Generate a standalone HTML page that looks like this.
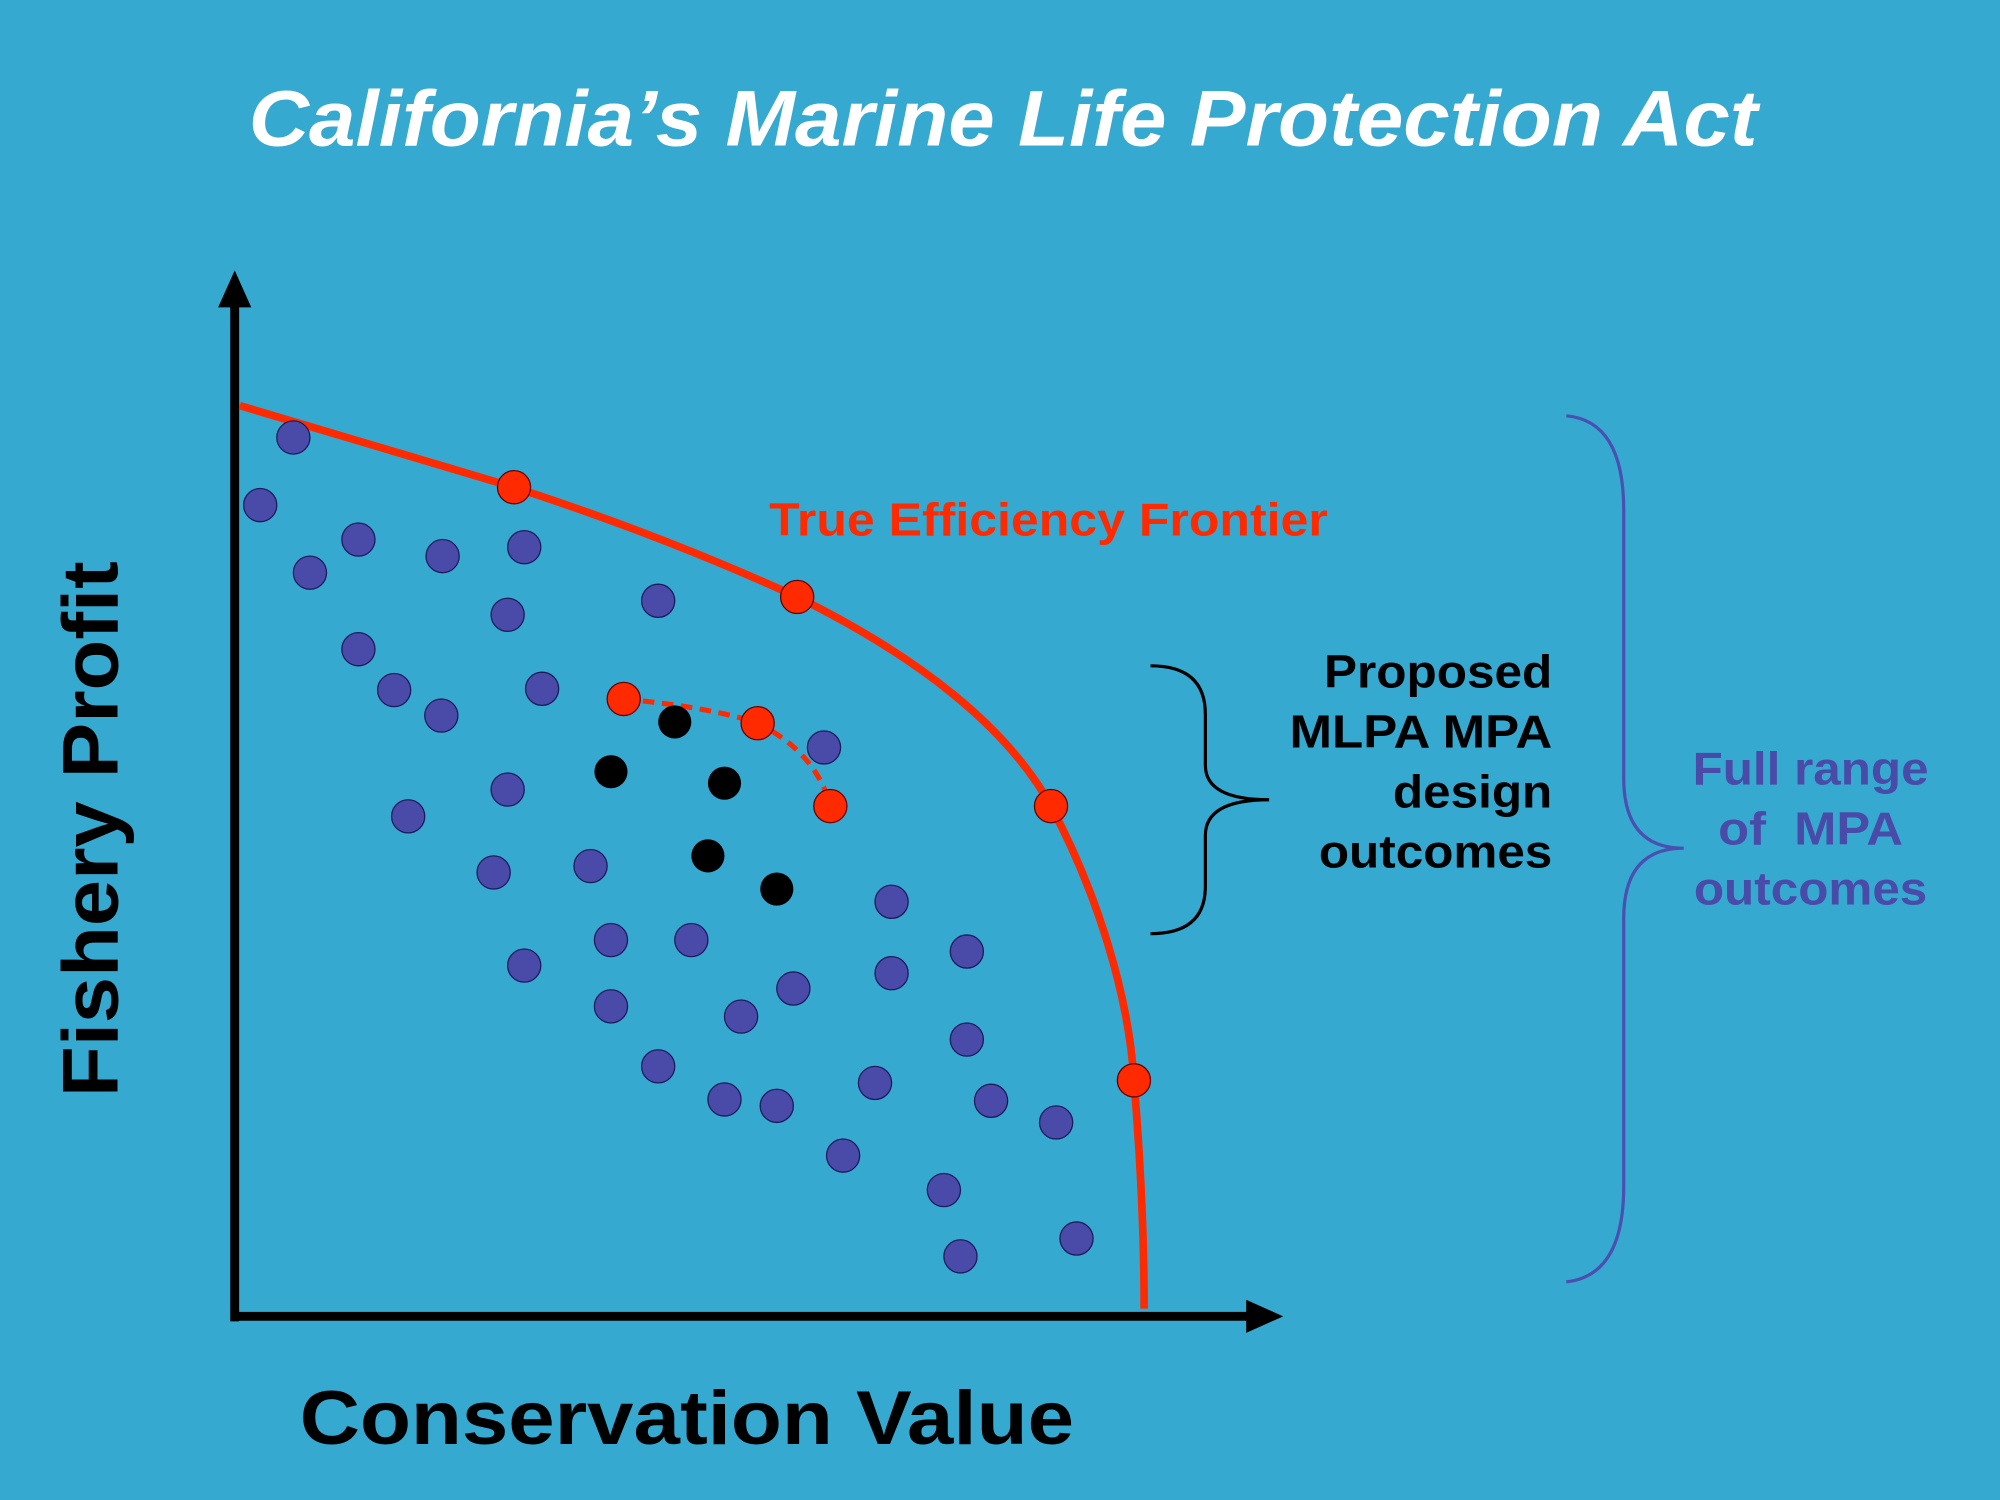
<!DOCTYPE html>
<html><head><meta charset="utf-8"><style>
html,body{margin:0;padding:0;background:#36A9D1;}
svg{display:block;}
text{font-family:"Liberation Sans",Arial,sans-serif;font-weight:bold;}
</style></head><body>
<svg width="2000" height="1500" viewBox="0 0 1568 1176" xmlns="http://www.w3.org/2000/svg">
<rect width="1568" height="1176" fill="#36A9D1"/>
<text x="195" y="114" textLength="1183" lengthAdjust="spacingAndGlyphs" font-size="62" font-style="italic" fill="#fff">California’s Marine Life Protection Act</text>
<line x1="184" y1="1036" x2="184" y2="235" stroke="#000" stroke-width="7"/>
<polygon points="184,212 171,241 197,241" fill="#000"/>
<line x1="181" y1="1032" x2="980" y2="1032" stroke="#000" stroke-width="7"/>
<polygon points="1006,1032 977,1019 977,1045" fill="#000"/>
<path d="M188,318 L403,382 Q520,420 625,468 C720,515 790,570 824,632 C860,700 885,780 889,847 C895,920 897,980 897,1026" fill="none" stroke="#FF2A00" stroke-width="6"/>
<path d="M489,548 Q560,555 594,567 Q640,590 651,632" fill="none" stroke="#FF2A00" stroke-width="4" stroke-dasharray="9,6"/>
<g fill="#4A4BA8" stroke="#1a1a5a" stroke-width="1">
<circle cx="230" cy="343" r="13"/><circle cx="204" cy="396" r="13"/><circle cx="243" cy="449" r="13"/><circle cx="281" cy="423" r="13"/><circle cx="347" cy="436" r="13"/><circle cx="411" cy="429" r="13"/><circle cx="398" cy="482" r="13"/><circle cx="516" cy="471" r="13"/><circle cx="281" cy="509" r="13"/><circle cx="309" cy="541" r="13"/><circle cx="346" cy="561" r="13"/><circle cx="425" cy="540" r="13"/><circle cx="646" cy="586" r="13"/><circle cx="320" cy="640" r="13"/><circle cx="398" cy="619" r="13"/><circle cx="387" cy="684" r="13"/><circle cx="463" cy="679" r="13"/><circle cx="411" cy="757" r="13"/><circle cx="479" cy="737" r="13"/><circle cx="542" cy="737" r="13"/><circle cx="699" cy="707" r="13"/><circle cx="758" cy="746" r="13"/><circle cx="699" cy="763" r="13"/><circle cx="622" cy="775" r="13"/><circle cx="479" cy="789" r="13"/><circle cx="581" cy="797" r="13"/><circle cx="516" cy="836" r="13"/><circle cx="568" cy="862" r="13"/><circle cx="609" cy="867" r="13"/><circle cx="686" cy="849" r="13"/><circle cx="758" cy="815" r="13"/><circle cx="777" cy="863" r="13"/><circle cx="828" cy="880" r="13"/><circle cx="661" cy="906" r="13"/><circle cx="740" cy="933" r="13"/><circle cx="844" cy="971" r="13"/><circle cx="753" cy="985" r="13"/>
</g>
<g fill="#000">
<circle cx="529" cy="566" r="13"/><circle cx="479" cy="605" r="13"/><circle cx="568" cy="614" r="13"/><circle cx="555" cy="671" r="13"/><circle cx="609" cy="697" r="13"/>
</g>
<g fill="#FF2A00" stroke="#600" stroke-width="1">
<circle cx="403" cy="382" r="13"/><circle cx="625" cy="468" r="13"/><circle cx="824" cy="632" r="13"/><circle cx="889" cy="847" r="13"/><circle cx="489" cy="548" r="13"/><circle cx="594" cy="567" r="13"/><circle cx="651" cy="632" r="13"/>
</g>
<text x="603" y="420" textLength="438" lengthAdjust="spacingAndGlyphs" font-size="36" fill="#FF2A00">True Efficiency Frontier</text>
<path d="M902,522 Q945,522 945,560 L945,600 Q945,627 995,627 Q945,627 945,655 L945,695 Q945,732 902,732" fill="none" stroke="#000" stroke-width="2.5"/>
<g font-size="36" fill="#000">
<text x="1038" y="539" textLength="179" lengthAdjust="spacingAndGlyphs">Proposed</text>
<text x="1011" y="586" textLength="206" lengthAdjust="spacingAndGlyphs">MLPA MPA</text>
<text x="1092" y="633" textLength="125" lengthAdjust="spacingAndGlyphs">design</text>
<text x="1034" y="680" textLength="183" lengthAdjust="spacingAndGlyphs">outcomes</text>
</g>
<path d="M1228,326 Q1273,330 1273,400 L1273,610 Q1273,665 1320,665 Q1273,665 1273,720 L1273,930 Q1273,1000 1228,1005" fill="none" stroke="#4A4FB0" stroke-width="2.5"/>
<g font-size="36" fill="#4A4BA8">
<text x="1327" y="615" textLength="185" lengthAdjust="spacingAndGlyphs">Full range</text>
<text x="1347" y="662" textLength="145" lengthAdjust="spacingAndGlyphs" xml:space="preserve">of  MPA</text>
<text x="1328" y="709" textLength="183" lengthAdjust="spacingAndGlyphs">outcomes</text>
</g>
<text transform="translate(92,860) rotate(-90)" textLength="420" lengthAdjust="spacingAndGlyphs" font-size="62" fill="#000">Fishery Profit</text>
<text x="235" y="1132" textLength="607" lengthAdjust="spacingAndGlyphs" font-size="60" fill="#000">Conservation Value</text>
</svg>
</body></html>
